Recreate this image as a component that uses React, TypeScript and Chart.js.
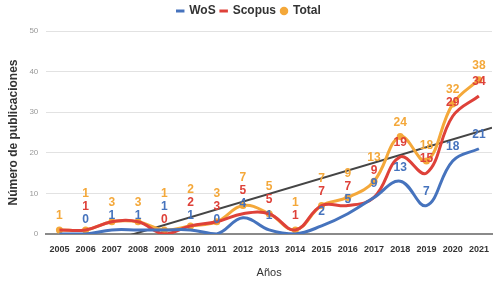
import React, { useEffect, useRef } from 'react';
import { Chart, registerables } from 'chart.js';

Chart.register(...registerables);

const years = ['2005', '2006', '2007', '2008', '2009', '2010', '2011', '2012', '2013', '2014', '2015', '2016', '2017', '2018', '2019', '2020', '2021'];
const wosValues = [0, 0, 1, 1, 1, 1, 0, 4, 1, 0, 2, 5, 9, 13, 7, 18, 21];
const scopusValues = [1, 1, 3, 3, 0, 2, 3, 5, 5, 1, 7, 7, 9, 19, 15, 29, 34];
const totalValues = [1, 1, 3, 3, 1, 2, 3, 7, 5, 1, 7, 9, 13, 24, 18, 32, 38];
const yTicks = [0, 10, 20, 30, 40, 50];
// trend line (two anchor points, extended across the plot)
const trendYears = ['2008', '2021'];
const trendValues = [0.3, 25.2];
// labels that are not shown in the reference
const hiddenLabels: [string, string][] = [
  ['WoS', '2005'],
  ['Scopus', '2005'],
  ['Scopus', '2007'],
  ['Scopus', '2008'],
  ['WoS', '2014'],
];

const COLORS = { WoS: '#4673bd', Scopus: '#de4139', Total: '#f4a83a', trend: '#454545' };
const FONT = "'Liberation Sans', Arial, sans-serif";

const legendSpacer = {
  id: 'legendSpacer',
  beforeInit(chart: any) {
    const legend = chart.legend;
    if (!legend) return;
    const origFit = legend.fit;
    legend.fit = function fit(this: any) {
      origFit.call(this);
      this.height += 4;
    };
  },
};

const trendPlugin = {
  id: 'trendLine',
  beforeDatasetsDraw(chart: any) {
    const { ctx, chartArea, scales } = chart;
    const x = scales.x;
    const y = scales.y;
    const i0 = years.indexOf(trendYears[0]);
    const i1 = years.indexOf(trendYears[1]);
    const slope = (trendValues[1] - trendValues[0]) / (i1 - i0);
    const step = x.getPixelForValue(1) - x.getPixelForValue(0);
    const iLeft = (chartArea.left - x.getPixelForValue(0)) / step;
    const iRight = (chartArea.right - x.getPixelForValue(0)) / step;
    const vAt = (i: number) => trendValues[0] + slope * (i - i0);
    ctx.save();
    ctx.beginPath();
    ctx.rect(chartArea.left, chartArea.top, chartArea.right - chartArea.left, chartArea.bottom - chartArea.top);
    ctx.clip();
    ctx.strokeStyle = COLORS.trend;
    ctx.lineWidth = 2;
    ctx.beginPath();
    ctx.moveTo(x.getPixelForValue(iLeft), y.getPixelForValue(vAt(iLeft)));
    ctx.lineTo(x.getPixelForValue(iRight), y.getPixelForValue(vAt(iRight)));
    ctx.stroke();
    ctx.restore();
  },
};

const labelPlugin = {
  id: 'valueLabels',
  afterDatasetsDraw(chart: any) {
    const { ctx, scales } = chart;
    const xs = scales.x;
    const ys = scales.y;
    ctx.save();
    ctx.font = `bold 12px ${FONT}`;
    ctx.textAlign = 'center';
    ctx.textBaseline = 'middle';
    years.forEach((yr, i) => {
      const items: { ds: number; v: number; color: string }[] = [];
      chart.data.datasets.forEach((d: any, di: number) => {
        if (hiddenLabels.some(([n, y]) => n === d.label && y === yr)) return;
        const v = d.data[i];
        if (v === null || v === undefined) return;
        items.push({ ds: di, v, color: d.borderColor });
      });
      items.sort((a, b) => a.v - b.v || a.ds - b.ds);
      let prev = Infinity;
      const px = xs.getPixelForValue(i);
      items.forEach((it) => {
        const py = ys.getPixelForValue(it.v);
        const ly = Math.min(py - 14, prev - 13);
        prev = ly;
        ctx.fillStyle = it.color;
        ctx.fillText(String(it.v), px, ly);
      });
    });
    ctx.restore();
  },
};

export default function App() {
  const ref = useRef<HTMLCanvasElement | null>(null);
  useEffect(() => {
    document.body.style.margin = '0';
    if (!ref.current) return;
    const chart = new Chart(ref.current, {
      type: 'line',
      data: {
        labels: years,
        datasets: [
          {
            label: 'WoS',
            data: wosValues,
            borderColor: COLORS.WoS,
            backgroundColor: COLORS.WoS,
            borderWidth: 3,
            tension: 0.4,
            pointRadius: 0,
            pointHoverRadius: 0,
            pointStyle: 'line',
          },
          {
            label: 'Scopus',
            data: scopusValues,
            borderColor: COLORS.Scopus,
            backgroundColor: COLORS.Scopus,
            borderWidth: 3,
            tension: 0.4,
            pointRadius: 0,
            pointHoverRadius: 0,
            pointStyle: 'line',
          },
          {
            label: 'Total',
            data: totalValues,
            borderColor: COLORS.Total,
            backgroundColor: COLORS.Total,
            borderWidth: 3,
            tension: 0.4,
            pointRadius: 3.5,
            pointBorderWidth: 0,
            pointStyle: 'circle',
          },
        ],
      },
      options: {
        animation: false,
        responsive: true,
        maintainAspectRatio: false,
        layout: { padding: { left: 6, right: 10, top: 0, bottom: 2 } },
        plugins: {
          legend: {
            position: 'top',
            labels: {
              usePointStyle: true,
              boxWidth: 6,
              boxHeight: 6,
              padding: 5,
              color: '#333',
              font: { family: FONT, size: 12, weight: 'bold' },
            },
          },
          tooltip: { enabled: false },
        },
        scales: {
          x: {
            offset: true,
            grid: { display: false },
            border: { display: true, color: '#8a8a8a', width: 2 },
            ticks: { color: '#333', font: { family: FONT, size: 9, weight: 'bold' }, padding: 2, maxRotation: 0, autoSkip: false },
            title: { display: true, text: 'Años', color: '#333', font: { family: FONT, size: 11 }, padding: { top: 10, bottom: 0 } },
          },
          y: {
            min: 0,
            max: 50,
            afterBuildTicks: (axis: any) => {
              axis.ticks = yTicks.map((v) => ({ value: v }));
            },
            grid: { color: '#e2e2e2', drawTicks: false, lineWidth: 1 },
            border: { display: false },
            ticks: { color: '#999', font: { family: FONT, size: 8 }, padding: 8 },
            title: { display: true, text: 'Número de publicaciones', color: '#333', font: { family: FONT, size: 12, weight: 'bold' }, padding: { top: 0, bottom: 1 } },
          },
        },
      },
      plugins: [legendSpacer, trendPlugin, labelPlugin],
    } as any);
    return () => chart.destroy();
  }, []);
  return (
    <div style={{ width: 502, height: 282, position: 'relative' }}>
      <canvas ref={ref} />
    </div>
  );
}
